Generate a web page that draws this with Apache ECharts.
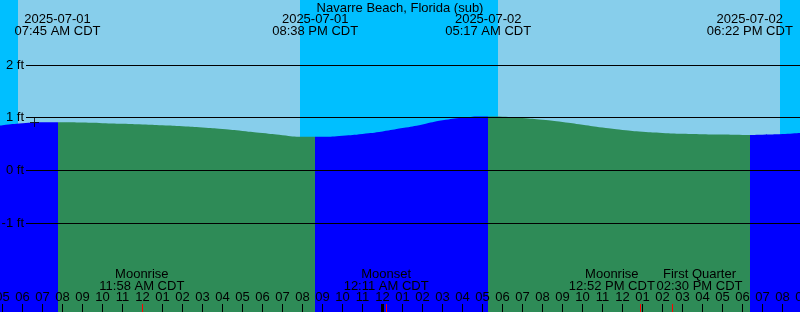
<!DOCTYPE html>
<html><head><meta charset="utf-8">
<script src="https://cdn.jsdelivr.net/npm/echarts@6/dist/echarts.min.js"></script>
<style>html,body{margin:0;padding:0;background:#00bfff}#c{width:800px;height:312px}</style>
</head><body><div id="c"></div>
<script>
// ---- data (hours counted from 2025-07-01 00:00 CDT) ----
const chartTitle = 'Navarre Beach, Florida (sub)';
const tideHours = [4,5,6,7,8,9,10,11,12,13,14,15,16,17,18,19,20,21,22,23,24,25,26,27,28,29,30,31,32,33,34,35,36,37,38,39,40,41,42,43,44,45];
const tideFeet  = [0.815,0.857,0.894,0.915,0.911,0.906,0.896,0.885,0.872,0.857,0.838,0.815,0.786,0.749,0.707,0.667,0.637,0.637,0.658,0.692,0.739,0.802,0.872,0.949,0.999,1.021,1.018,0.995,0.961,0.919,0.866,0.811,0.767,0.733,0.711,0.695,0.686,0.678,0.673,0.677,0.688,0.711];
const highTideMark = [[6.6, 0.91]];
const sunEventHours = [7.75, 20.6333, 29.2833, 42.3667];
const sunEventDates = ['2025-07-01', '2025-07-01', '2025-07-02', '2025-07-02'];
const sunEventTimes = ['07:45 AM CDT', '08:38 PM CDT', '05:17 AM CDT', '06:22 PM CDT'];
const lightSkyRanges = [[5.775, 19.875], [29.775, 43.875]];
const moonEventHours = [11.9667, 24.1833, 36.8667, 38.5];
const moonEventNames = ['Moonrise', 'Moonset', 'Moonrise', 'First Quarter'];
const moonEventTimes = ['11:58 AM CDT', '12:11 AM CDT', '12:52 PM CDT', '02:30 PM CDT'];
const midnightHours = [24];
const depthTicks = [-1, 0, 1, 2];

// ---- styles ----
const FONT = 'Liberation Sans';
const FS = 13;
const C_NIGHT_SKY = '#00bfff', C_DAY_SKY = '#87ceeb', C_DAY_WATER = '#2e8b57', C_NIGHT_WATER = '#0000ff';
const labelNudge = [0, 0, -28, 27];

const hourLabel = v => { const h = ((v % 12) + 12) % 12 || 12; return (h < 10 ? '0' : '') + h; };

const noLine = { show: false, onZero: false };
const xRange = { min: 4, max: 45 };

// one axis per moon event so that neighbouring labels are never dropped
const moonAxes = moonEventHours.map((h, i) => {
  const n = labelNudge[i];
  return { gridIndex: 0, type: 'value', ...xRange, position: 'bottom', z: 11,
    axisLine: noLine, splitLine: { show: false },
    axisTick: { inside: true, length: 8, customValues: [h], lineStyle: { color: '#ff0000', width: 1 } },
    axisLabel: { inside: true, margin: 20, customValues: [h], hideOverlap: false,
      showMinLabel: true, showMaxLabel: true,
      formatter: () => '{m|' + moonEventNames[i] + '}\n{m|' + moonEventTimes[i] + '}',
      rich: { m: { fontFamily: FONT, fontSize: FS, lineHeight: 12, color: '#000',
        padding: n < 0 ? [0, -2 * n, 0, 0] : [0, 0, 0, 2 * n] } },
      color: '#000', fontFamily: FONT, fontSize: FS, lineHeight: 12 } };
});
const sunAxes = sunEventHours.map((h, i) => ({
  gridIndex: 0, type: 'value', ...xRange, position: 'top', z: 10,
  axisLine: noLine, splitLine: { show: false }, axisTick: { show: false },
  axisLabel: { inside: true, margin: 13, customValues: [h], hideOverlap: false,
    showMinLabel: true, showMaxLabel: true,
    formatter: () => sunEventDates[i] + '\n' + sunEventTimes[i],
    color: '#000', fontFamily: FONT, fontSize: FS, lineHeight: 12 } }));

const chart = echarts.init(document.getElementById('c'), null, { renderer: 'canvas' });
chart.setOption({
  backgroundColor: C_NIGHT_SKY,
  animation: false,
  title: { text: chartTitle, left: 'center', top: 1, padding: 0,
    textStyle: { fontFamily: FONT, fontSize: FS, fontWeight: 'normal', color: '#000', lineHeight: 14 } },
  grid: [
    { left: -17.5, right: -2.5, top: 0, bottom: 0, outerBoundsMode: 'none', containLabel: false },
    { left: 26, right: 0, top: 65, bottom: 89, outerBoundsMode: 'none', containLabel: false }
  ],
  xAxis: [
    { gridIndex: 0, type: 'value', ...xRange, interval: 1, position: 'bottom', z: 10,
      axisLine: noLine, splitLine: { show: false },
      axisTick: { inside: true, length: 8, lineStyle: { color: '#000', width: 1 } },
      axisLabel: { inside: true, margin: 8, formatter: hourLabel, color: '#000', fontFamily: FONT, fontSize: FS,
        showMinLabel: true, showMaxLabel: true, hideOverlap: false } },
    { gridIndex: 1, type: 'value', min: 0, max: 1, show: false, axisLine: noLine },
    { gridIndex: 0, type: 'value', ...xRange, position: 'bottom', z: 10,
      axisLine: noLine, splitLine: { show: false },
      axisTick: { inside: true, length: 8, customValues: midnightHours, lineStyle: { color: '#000', width: 3 } },
      axisLabel: { show: false } },
    ...moonAxes,
    ...sunAxes
  ],
  yAxis: [
    { gridIndex: 0, type: 'value', min: -2.69, max: 3.234, show: false, axisLine: noLine },
    { gridIndex: 1, type: 'value', min: depthTicks[0], max: depthTicks[depthTicks.length - 1], interval: 1, z: 10,
      axisLine: noLine, axisTick: { show: false },
      splitLine: { show: true, lineStyle: { color: '#000', width: 1 } },
      axisLabel: { margin: 2, formatter: '{value} ft', color: '#000', fontFamily: FONT, fontSize: FS,
        showMinLabel: true, showMaxLabel: true } }
  ],
  visualMap: {
    type: 'piecewise', show: false, seriesIndex: 0, dimension: 0,
    pieces: [
      { lt: sunEventHours[0], color: C_NIGHT_WATER },
      { gte: sunEventHours[0], lt: sunEventHours[1], color: C_DAY_WATER },
      { gte: sunEventHours[1], lt: sunEventHours[2], color: C_NIGHT_WATER },
      { gte: sunEventHours[2], lt: sunEventHours[3], color: C_DAY_WATER },
      { gte: sunEventHours[3], color: C_NIGHT_WATER }
    ]
  },
  series: [
    { type: 'line', xAxisIndex: 0, yAxisIndex: 0, z: 2,
      data: tideHours.map((h, i) => [h, tideFeet[i]]),
      smooth: true, showSymbol: false, symbol: 'none',
      lineStyle: { width: 0, opacity: 0 }, areaStyle: { opacity: 1, origin: 'start' },
      markArea: { silent: true, z: 1, itemStyle: { color: C_DAY_SKY },
        data: lightSkyRanges.map(r => [{ xAxis: r[0] }, { xAxis: r[1] }]) } },
    { type: 'scatter', xAxisIndex: 0, yAxisIndex: 0, z: 5, data: highTideMark,
      symbol: 'path://M0,4h9v1h-9z M4,0h1v9h-1z', symbolSize: [9, 9], itemStyle: { color: '#000' } }
  ]
});
</script></body></html>
